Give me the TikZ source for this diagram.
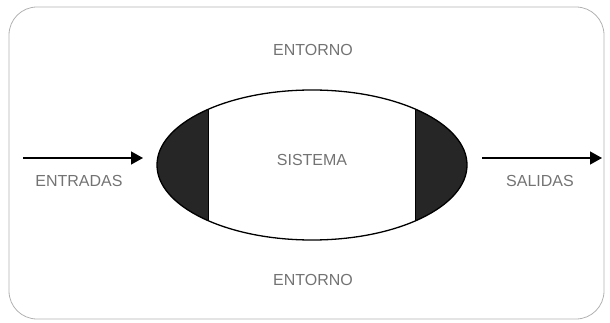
\documentclass[tikz,border=0pt]{standalone}
\usepackage{fontspec}
\setmainfont{Liberation Sans}
\usetikzlibrary{arrows.meta}
\tikzset{
  etiqueta/.style={text=black!55, font=\fontsize{16}{18}\selectfont, inner sep=0pt},
  flecha/.style={line width=1.4pt, -{Triangle[length=12pt,width=13pt]}},
}
\begin{document}
\begin{tikzpicture}[x=1pt, y=-1pt]
	\useasboundingbox (0,0) rectangle (610,323);
	% marco del entorno
	\draw[black!30, line width=0.8pt, rounded corners=28pt] (9,7) rectangle (604,319);
	
	% sistema
	\begin{scope}
		\clip (312,165) ellipse (155 and 75);
		\fill[black!85] (150,80) rectangle (208,250);
		\fill[black!85] (415,80) rectangle (475,250);
		\draw[line width=1pt] (208,80) -- (208,250);
		\draw[line width=1pt] (415,80) -- (415,250);
	\end{scope}
	\draw[line width=1.3pt] (312,165) ellipse (155 and 75);
	
	\node[etiqueta] (sis) at (312,160) {SISTEMA};
	\node[etiqueta] (ent1) at (313,50) {ENTORNO};
	\node[etiqueta] (ent2) at (313,280) {ENTORNO};
	
	\coordinate (e0) at (23,158);
	\coordinate (e1) at (143,158);
	\coordinate (s0) at (482,158);
	\coordinate (s1) at (602,158);
	
	\draw[flecha] (e0) to (e1);
	\draw[flecha] (s0) to (s1);
	\node[etiqueta] (entr) at (79,181) {ENTRADAS};
	\node[etiqueta] (sal) at (540,181) {SALIDAS};
\end{tikzpicture}
\end{document}
